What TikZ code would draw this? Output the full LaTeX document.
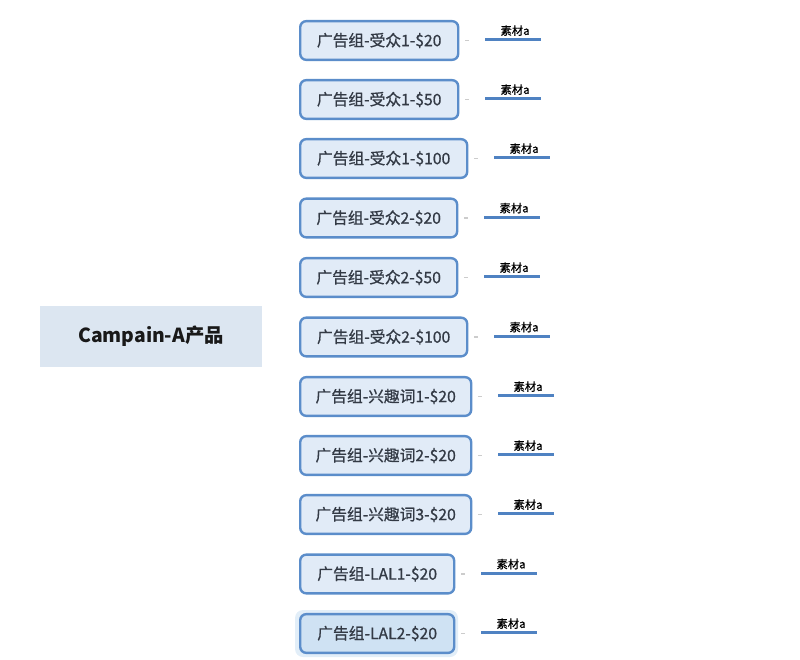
\documentclass[tikz,border=0pt]{standalone}
\usepackage{fontspec}
\usetikzlibrary{calc}
\setmainfont{Noto Sans CJK SC}
\newfontfamily\boxfont[FakeBold=0.8]{Noto Sans CJK SC}
\definecolor{boxfill}{HTML}{E1EBF7}
\definecolor{boxline}{HTML}{5B8DCA}
\definecolor{rootfill}{HTML}{DCE6F1}
\definecolor{selfill}{HTML}{CFE2F3}
\definecolor{txt}{HTML}{333A45}
\definecolor{linkblue}{HTML}{4F82C2}
\begin{document}
\begin{tikzpicture}[x=0.75pt,y=-0.75pt,
  adbox/.style={draw=boxline, line width=1.8pt, fill=boxfill, rounded corners=4.5pt,
    minimum height=29pt, anchor=west, inner sep=0pt, text=txt, font=\boxfont\fontsize{11.8}{13}\selectfont},
  matlabel/.style={font=\boxfont\fontsize{8.5}{10}\selectfont, text=black, inner sep=0pt},
  matline/.style={draw=linkblue, line width=2.2pt},
  stub/.style={draw=gray!40, line width=0.9pt}]
\useasboundingbox (0,0) rectangle (800,660);
\node[fill=rootfill, minimum width=166.5pt, minimum height=45.75pt, inner sep=0pt,
  font=\fontsize{14.5}{16}\selectfont\bfseries, text=black!90] (root) at (151,336.5) {Campain-A产品};
% glow for selected
\fill[selfill!60, rounded corners=6pt] (295,610) rectangle (458,657);
\foreach \i/\y/\w/\t in {
  1/40.5/158/广告组-受众1-\$20,
  2/99.5/158/广告组-受众1-\$50,
  3/158.5/167/广告组-受众1-\$100,
  4/218/157/广告组-受众2-\$20,
  5/277.5/157/广告组-受众2-\$50,
  6/337/167/广告组-受众2-\$100,
  7/396.5/171/广告组-兴趣词1-\$20,
  8/455.5/171/广告组-兴趣词2-\$20,
  9/514.5/171/广告组-兴趣词3-\$20,
  10/574/154/广告组-LAL1-\$20,
  11/633.5/154/广告组-LAL2-\$20}{
  \ifnum\i=11
    \node[adbox, fill=selfill, minimum width=\w*0.75pt] (box\i) at (299,\y) {\t};
  \else
    \node[adbox, minimum width=\w*0.75pt] (box\i) at (299,\y) {\t};
  \fi
  \coordinate (sa\i) at ([xshift=4.5pt]box\i.east);
  \coordinate (sb\i) at ([xshift=7.5pt]box\i.east);
  \coordinate (la\i) at ([xshift=19.5pt,yshift=0.5pt]box\i.east);
  \coordinate (lb\i) at ([xshift=61pt,yshift=0.5pt]box\i.east);
  \draw[stub] (sa\i) -- (sb\i);
  \draw[matline] (la\i) -- (lb\i);
  \node[matlabel, anchor=south] (lab\i) at ([xshift=1.5pt,yshift=2.8pt]$(la\i)!0.5!(lb\i)$) {素材a};
}
\end{tikzpicture}
\end{document}
